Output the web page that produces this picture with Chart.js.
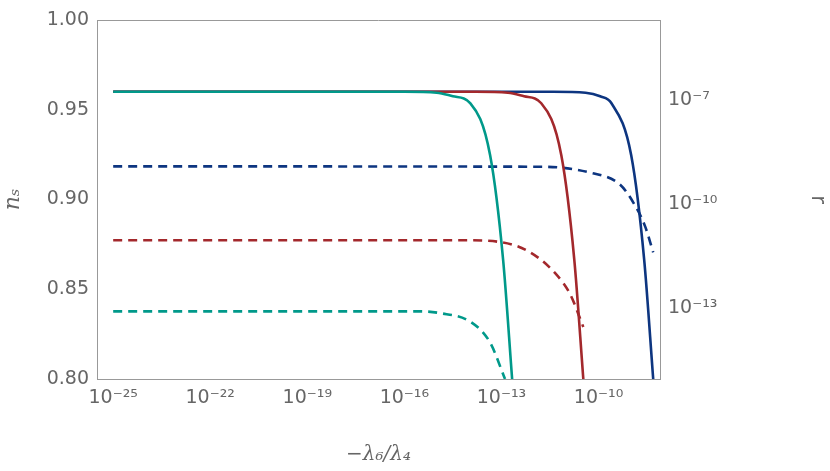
<!DOCTYPE html>
<html>
<head>
<meta charset="utf-8">
<script src="https://cdn.jsdelivr.net/npm/chart.js@4"></script>
<style>
  html, body { margin: 0; padding: 0; background: #fff; }
  #wrap { width: 830px; height: 471px; }
</style>
</head>
<body>
<div id="wrap"><canvas id="c" width="830" height="471"></canvas></div>
<script>
// log10 of -lambda6/lambda4, and n_s / log10(r) values
const tealNsX = [-25, -16, -15, -14.5, -13.96, -13.35, -12.95, -12.67];
const tealNsY = [0.96, 0.96, 0.9595, 0.9575, 0.9536, 0.9246, 0.8667, 0.80];
const redNsX  = [-25, -13.8, -12.8, -12.3, -11.77, -11.15, -10.75, -10.47];
const redNsY  = [0.96, 0.96, 0.9595, 0.9575, 0.9536, 0.9246, 0.8667, 0.80];
const blueNsX = [-25, -11.4, -10.4, -9.95, -9.6, -8.99, -8.59, -8.31];
const blueNsY = [0.96, 0.96, 0.9595, 0.9575, 0.9536, 0.9246, 0.8667, 0.80];

const tealRX = [-25, -15.5, -14.9, -13.96, -13.35, -12.89];
const tealRY = [-13.1, -13.1, -13.15, -13.4, -14.0, -15.05];
const redRX  = [-25, -14.2, -13.04, -12.11, -11.34, -10.88, -10.47];
const redRY  = [-11.05, -11.05, -11.1, -11.4, -12.0, -12.6, -13.55];
const blueRX = [-25, -11.8, -10.26, -9.33, -8.87, -8.56, -8.31];
const blueRY = [-8.92, -8.93, -9.1, -9.45, -10.05, -10.65, -11.4];

const xTicks = [-25, -22, -19, -16, -13, -10];
const rTicks = [-7, -10, -13];

const sup = { "-": "⁻", "0": "⁰", "1": "¹", "2": "²", "3": "³", "4": "⁴", "5": "⁵", "6": "⁶", "7": "⁷", "8": "⁸", "9": "⁹" };
const pow10 = v => "10" + String(Math.round(Math.log10(v))).split("").map(ch => sup[ch]).join("");

const pts = (xs, ys, logY) => xs.map((x, i) => ({ x: Math.pow(10, x), y: logY ? Math.pow(10, ys[i]) : ys[i] }));

const TEAL = "#00998a", RED = "#a3282c", BLUE = "#0d3580";
const solid = (xs, ys, col) => ({ data: pts(xs, ys, false), borderColor: col, borderWidth: 2.6, pointRadius: 0, cubicInterpolationMode: "monotone", yAxisID: "y" });
const dashed = (xs, ys, col) => ({ data: pts(xs, ys, true), borderColor: col, borderWidth: 2.6, borderDash: [9, 6], pointRadius: 0, cubicInterpolationMode: "monotone", yAxisID: "y2" });

const grey = "#666";
const font = { family: "DejaVu Sans", size: 19 };

new Chart(document.getElementById("c"), {
  type: "line",
  data: {
    datasets: [
      solid(tealNsX, tealNsY, TEAL), solid(redNsX, redNsY, RED), solid(blueNsX, blueNsY, BLUE),
      dashed(tealRX, tealRY, TEAL), dashed(redRX, redRY, RED), dashed(blueRX, blueRY, BLUE)
    ]
  },
  options: {
    responsive: false,
    animation: false,
    layout: { padding: { top: 20 } },
    plugins: { legend: { display: false }, tooltip: { enabled: false } },
    scales: {
      x: {
        type: "logarithmic",
        min: Math.pow(10, -25.5), max: Math.pow(10, -8.1),
        afterBuildTicks: s => { s.ticks = xTicks.map(v => ({ value: Math.pow(10, v) })); },
        afterFit: s => { s.height = 92; },
        grid: { display: false, drawTicks: false },
        border: { color: "#999", width: 1 },
        ticks: { color: grey, font: font, padding: 8, callback: v => pow10(v) },
        title: { display: true, text: "−λ₆/λ₄", color: grey, font: { family: "DejaVu Serif", size: 20, style: "italic" }, padding: { top: 8 } }
      },
      y: {
        position: "left",
        min: 0.80, max: 1.00,
        afterBuildTicks: s => { s.ticks = [0.80, 0.85, 0.90, 0.95, 1.00].map(v => ({ value: v })); },
        afterFit: s => { s.width = 97; },
        grid: { display: false, drawTicks: false },
        border: { color: "#999", width: 1 },
        ticks: { color: grey, font: font, padding: 8, callback: v => v.toFixed(2) },
        title: { display: true, text: "nₛ", color: grey, font: { family: "DejaVu Serif", size: 22, style: "italic" }, padding: 0 }
      },
      y2: {
        axis: "y",
        type: "logarithmic",
        position: "right",
        min: Math.pow(10, -15.05), max: Math.pow(10, -4.7),
        afterBuildTicks: s => { s.ticks = rTicks.map(v => ({ value: Math.pow(10, v) })); },
        afterFit: s => { s.width = 170; },
        grid: { display: false, drawTicks: false },
        border: { color: "#999", width: 1 },
        ticks: { color: grey, font: font, padding: 8, callback: v => pow10(v) },
        title: { display: true, text: "r", color: grey, font: { family: "DejaVu Sans", size: 21 }, padding: 0 }
      }
    }
  },
  plugins: [{
    id: "frame",
    afterDraw: ch => {
      const a = ch.chartArea, g = ch.ctx;
      g.save();
      g.strokeStyle = "#999"; g.lineWidth = 1;
      g.beginPath(); g.moveTo(a.left, a.top + 0.5); g.lineTo(a.right, a.top + 0.5); g.stroke();
      g.restore();
    }
  }]
});
</script>
</body>
</html>
